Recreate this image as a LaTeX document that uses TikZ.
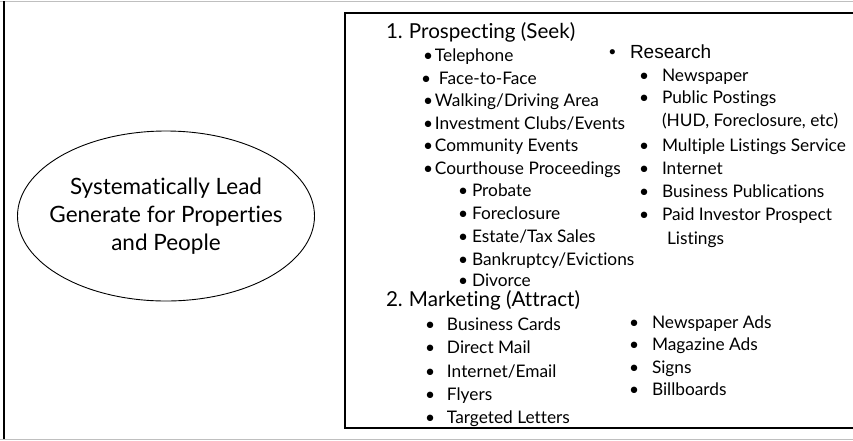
\documentclass[tikz,border=0pt]{standalone}
\usepackage{fontspec}
\setmainfont{Lato}[Ligatures=NoCommon]
\newfontfamily\arialfont{Liberation Sans}
\usetikzlibrary{shapes.geometric}

% bullet followed by a fixed gap
\newcommand{\bul}[1]{\makebox[#1][l]{\textbullet}}
\newcommand{\num}[1]{\makebox[23pt][l]{#1}}

\begin{document}
\begin{tikzpicture}[x=1pt, y=-1pt,
    every node/.style={inner sep=0pt, outer sep=0pt},
    goal/.style={ellipse, draw, line width=0.9pt, minimum width=297pt, minimum height=170pt},
    goaltext/.style={align=center, font=\fontsize{22.5}{28}\selectfont},
    head/.style={anchor=base west, font=\fontsize{20.6}{24}\selectfont},
    item/.style={anchor=base west, font=\fontsize{17.3}{20}\selectfont},
    rsrch/.style={anchor=base west, font=\arialfont\fontsize{19}{22}\selectfont},
    boxline/.style={line width=2pt},
    edge/.style={black!25, line width=1pt}
]
\useasboundingbox (0,0) rectangle (853,440);

% -- outer frame --
\draw[edge] (0,1) -- (853,1);
\draw[edge] (0,439) -- (853,439);
\draw[boxline] (4,1) -- (4,439);

% -- goal --
\node[goal] (goal) at (166,216) {};
\node[goaltext] (goaltxt) at (goal.center) {Systematically Lead\\Generate for Properties\\and People};

% -- list box --
\draw[boxline] (860,13) -- (345,13) -- (345,428) -- (860,428);

% -- 1. Prospecting --
\node[head] (hdpro)   at (386,38)  {\num{1.}Prospecting (Seek)};
\node[item] (tel)     at (423,61)  {\bul{12pt}Telephone};
\node[item] (f2f)     at (421,84)  {\bul{18pt}Face-to-Face};
\node[item] (walk)    at (423,106) {\bul{12pt}Walking/Driving Area};
\node[item] (clubs)   at (423,129) {\bul{12pt}Investment Clubs/Events};
\node[item] (comm)    at (423,151) {\bul{12pt}Community Events};
\node[item] (court)   at (423,174) {\bul{12pt}Courthouse Proceedings};
\node[item] (probate) at (458,196) {\bul{14pt}Probate};
\node[item] (forecl)  at (458,219) {\bul{14pt}Foreclosure};
\node[item] (estate)  at (458,242) {\bul{14pt}Estate/Tax Sales};
\node[item] (bankr)   at (458,265) {\bul{14pt}Bankruptcy/Evictions};
\node[item] (divorce) at (458,286) {\bul{14pt}Divorce};

% -- research column --
\node[rsrch] (research) at (609,58) {\bul{21pt}Research};
\node[item] (news)     at (639,81)  {\bul{23pt}Newspaper};
\node[item] (postings) at (639,103) {\bul{23pt}Public Postings};
\node[item] (hud)      at (662,126) {(HUD, Foreclosure, etc)};
\node[item] (mls)      at (639,151) {\bul{23pt}Multiple Listings Service};
\node[item] (inet)     at (639,174) {\bul{23pt}Internet};
\node[item] (bizpub)   at (639,197) {\bul{23pt}Business Publications};
\node[item] (paid)     at (639,220) {\bul{23pt}Paid Investor Prospect};
\node[item] (listings) at (667,244) {Listings};

% -- 2. Marketing --
\node[head] (hdmkt)   at (386,306) {\num{2.}Marketing (Attract)};
\node[item] (cards)   at (425,330) {\bul{22pt}Business Cards};
\node[item] (mail)    at (425,353) {\bul{22pt}Direct Mail};
\node[item] (email)   at (425,377) {\bul{22pt}Internet/Email};
\node[item] (flyers)  at (425,400) {\bul{22pt}Flyers};
\node[item] (letters) at (425,423) {\bul{22pt}Targeted Letters};
\node[item] (newsads) at (629,328) {\bul{23pt}Newspaper Ads};
\node[item] (magads)  at (629,350) {\bul{23pt}Magazine Ads};
\node[item] (signs)   at (629,373) {\bul{23pt}Signs};
\node[item] (billb)   at (629,395) {\bul{23pt}Billboards};

\end{tikzpicture}
\end{document}
